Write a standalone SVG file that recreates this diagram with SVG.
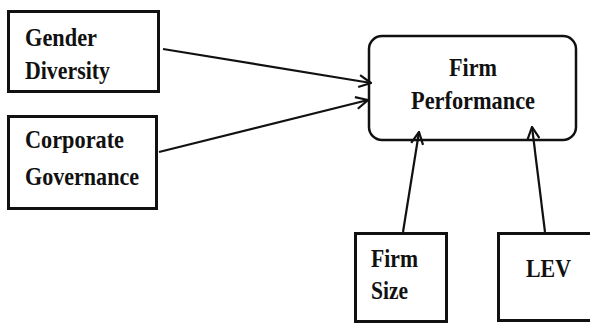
<svg xmlns="http://www.w3.org/2000/svg" width="590" height="325" viewBox="0 0 590 325">
  <style>
    .box { fill: #ffffff; stroke: #111111; stroke-width: 3; }
    .rbox { fill: #ffffff; stroke: #111111; stroke-width: 2.5; }
    .lbl { font-family: 'Liberation Serif', 'DejaVu Serif', serif; font-weight: 700; font-size: 25px; fill: #111111; }
    .edge { fill: none; stroke: #111111; stroke-width: 2.2; marker-end: url(#open); }
  </style>
  <defs>
    <marker id="open" markerUnits="userSpaceOnUse" viewBox="0 0 14 14" refX="13" refY="7" markerWidth="14" markerHeight="14" orient="auto">
      <path d="M1,1 L13,7 L1,13" fill="none" stroke="#111111" stroke-width="2.2" stroke-linejoin="miter"/>
    </marker>
  </defs>
  <rect width="590" height="325" fill="#ffffff"/>

  <g id="gender-diversity">
    <rect class="box" x="8.5" y="11.5" width="150" height="80"/>
    <text class="lbl" x="25" y="46" textLength="72" lengthAdjust="spacingAndGlyphs">Gender</text>
    <text class="lbl" x="25" y="79" textLength="85" lengthAdjust="spacingAndGlyphs">Diversity</text>
  </g>

  <g id="corporate-governance">
    <rect class="box" x="8.5" y="116.5" width="148" height="92"/>
    <text class="lbl" x="25" y="148" textLength="99" lengthAdjust="spacingAndGlyphs">Corporate</text>
    <text class="lbl" x="25" y="185" textLength="114" lengthAdjust="spacingAndGlyphs">Governance</text>
  </g>

  <g id="firm-performance">
    <rect class="rbox" x="369" y="36" width="207" height="104" rx="13" ry="13"/>
    <text class="lbl" x="449" y="76" textLength="48" lengthAdjust="spacingAndGlyphs">Firm</text>
    <text class="lbl" x="411" y="109" textLength="124" lengthAdjust="spacingAndGlyphs">Performance</text>
  </g>

  <g id="firm-size">
    <rect class="box" x="355.5" y="233.5" width="91" height="88"/>
    <text class="lbl" x="371" y="267" textLength="47" lengthAdjust="spacingAndGlyphs">Firm</text>
    <text class="lbl" x="371" y="299" textLength="37" lengthAdjust="spacingAndGlyphs">Size</text>
  </g>

  <g id="lev">
    <rect class="box" x="498.5" y="233.5" width="100" height="87"/>
    <text class="lbl" x="526" y="277" textLength="45" lengthAdjust="spacingAndGlyphs">LEV</text>
  </g>

  <g id="connectors">
    <line class="edge" x1="163" y1="49" x2="371" y2="83"/>
    <line class="edge" x1="159" y1="152" x2="368" y2="100"/>
    <line class="edge" x1="403" y1="232" x2="419" y2="132"/>
    <line class="edge" x1="545" y1="232" x2="532" y2="127"/>
  </g>
</svg>
